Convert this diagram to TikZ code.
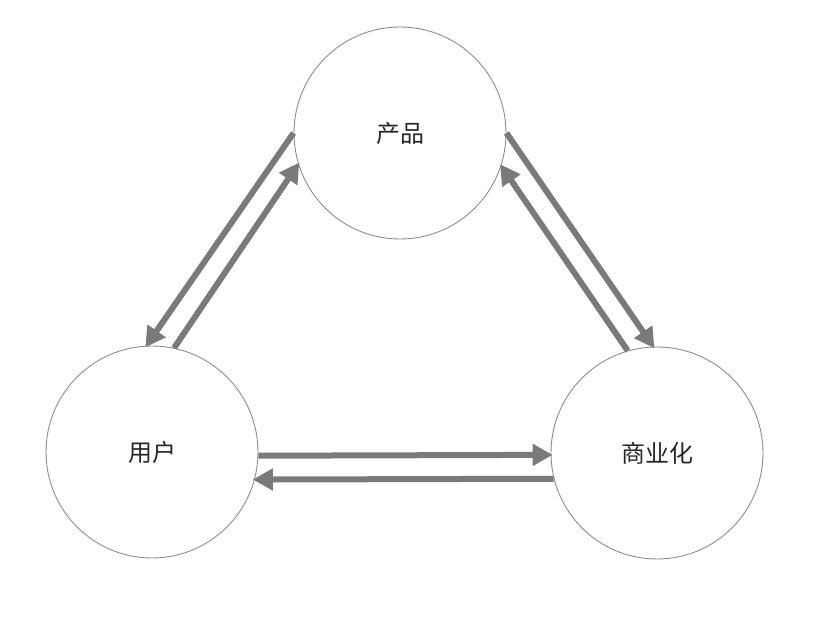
\documentclass[tikz,border=0pt]{standalone}
\usepackage{fontspec}
\setmainfont{Noto Sans CJK SC}
\usetikzlibrary{arrows.meta}

\begin{document}
\begin{tikzpicture}[x=1pt, y=-1pt,
    ring/.style={draw=gray!90, line width=0.9pt, circle, minimum size=212pt, inner sep=0pt,
                 font=\fontsize{24}{28}\selectfont, text=black!85},
    flow/.style={draw=black!52, line width=6pt, -{Triangle[length=20pt, width=21pt]}, shorten >=-2pt}]

\useasboundingbox (0,0) rectangle (824,628);

% ============================
% Circles
% ============================
\node[ring] (prod) at (400,133) {产品};
\node[ring] (user) at (152,452) {用户};
\node[ring] (biz)  at (657,453) {商业化};

% ============================
% Left pair: product <-> user
% ============================
\draw[flow] (prod.180) -- (user.93);
\draw[flow] (user.78) -- (prod.197);

% ============================
% Right pair: product <-> business
% ============================
\draw[flow] (prod.0) -- (biz.92);
\draw[flow] (biz.106) -- (prod.-18);

% ============================
% Bottom pair: user <-> business
% ============================
\draw[flow] (user.-2) -- (biz.181);
\draw[flow] (biz.194) -- (user.-15);

\end{tikzpicture}
\end{document}
